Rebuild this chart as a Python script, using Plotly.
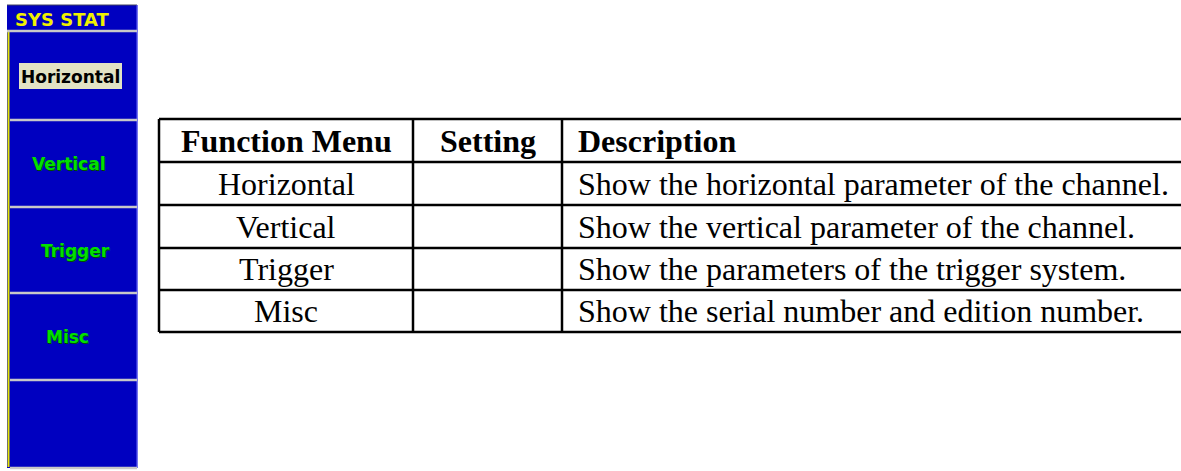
import plotly.graph_objects as go

# ---- data ----
menu_title = "SYS STAT"
menu_items = ["Horizontal", "Vertical", "Trigger", "Misc", ""]
menu_selected = 0
menu_text_x = [70, 68, 75, 67, 70]

header = ["Function Menu", "Setting", "Description"]
col_function = ["Horizontal", "Vertical", "Trigger", "Misc"]
col_setting = ["", "", "", ""]
col_description = [
    "Show the horizontal parameter of the channel.",
    "Show the vertical parameter of the channel.",
    "Show the parameters of the trigger system.",
    "Show the serial number and edition number.",
]

W, H = 1181, 471
fig = go.Figure()
shapes = []
ann = []

# ---- left menu panel ----
BLUE = "#0000C0"
panel_x0, panel_x1 = 7, 137
title_y0, title_y1 = 5, 31
sep_y = [31, 120, 207, 293, 380, 468]

shapes.append(dict(type="rect", x0=panel_x0, x1=panel_x1, y0=title_y0, y1=sep_y[-1],
                   fillcolor=BLUE, line=dict(width=0), layer="below"))
shapes.append(dict(type="line", x0=panel_x0, x1=panel_x1, y0=title_y0, y1=title_y0,
                   line=dict(color="#404060", width=1)))
shapes.append(dict(type="line", x0=panel_x1, x1=panel_x1, y0=title_y0, y1=sep_y[-1],
                   line=dict(color="#4848E8", width=1.5)))
shapes.append(dict(type="line", x0=8.5, x1=8.5, y0=sep_y[0], y1=sep_y[-1] - 1,
                   line=dict(color="#E8E800", width=2)))
for y in sep_y:
    shapes.append(dict(type="line", x0=panel_x0 + (0 if y == sep_y[0] else 3), x1=panel_x1, y0=y, y1=y,
                       line=dict(color="#C8C8C8", width=2.5)))

ann.append(dict(x=13, y=19, text="<b>" + menu_title + "</b>", showarrow=False,
                xanchor="left", yanchor="middle",
                font=dict(family="DejaVu Sans", size=18, color="#F0F000")))

MENU_FS = 17
for i, item in enumerate(menu_items):
    if not item:
        continue
    cy = (sep_y[i] + sep_y[i + 1]) / 2 + 0.5
    if i == menu_selected:
        shapes.append(dict(type="rect", x0=19, x1=122, y0=63, y1=89,
                           fillcolor="#E2E2C4", line=dict(width=0)))
        ann.append(dict(x=menu_text_x[i], y=76.5, text="<b>" + item + "</b>", showarrow=False,
                        xanchor="center", yanchor="middle",
                        font=dict(family="DejaVu Sans", size=MENU_FS, color="#000000")))
    else:
        ann.append(dict(x=menu_text_x[i], y=cy, text="<b>" + item + "</b>", showarrow=False,
                        xanchor="center", yanchor="middle",
                        font=dict(family="DejaVu Sans", size=MENU_FS, color="#00E000",
                                  shadow="1px 1px 0px #005000")))

# ---- table ----
col_x = [159, 413, 562, W + 5]
row_y = [119, 162, 205, 248, 290, 332]
LW = 2.5
for y in row_y:
    shapes.append(dict(type="line", x0=col_x[0], x1=col_x[-1], y0=y, y1=y,
                       line=dict(color="black", width=LW)))
for x in col_x[:-1]:
    shapes.append(dict(type="line", x0=x, x1=x, y0=row_y[0], y1=row_y[-1],
                       line=dict(color="black", width=LW)))

SERIF = "Liberation Serif, Times New Roman, serif"
FS = 32
desc_x = 576

def cell_center(r):
    return (row_y[r] + row_y[r + 1]) / 2

hy = cell_center(0)
ann.append(dict(x=(col_x[0] + col_x[1]) / 2, y=hy, text="<b>" + header[0] + "</b>", showarrow=False,
                xanchor="center", yanchor="middle", font=dict(family=SERIF, size=FS, color="black")))
ann.append(dict(x=(col_x[1] + col_x[2]) / 2, y=hy, text="<b>" + header[1] + "</b>", showarrow=False,
                xanchor="center", yanchor="middle", font=dict(family=SERIF, size=FS, color="black")))
ann.append(dict(x=desc_x, y=hy, text="<b>" + header[2] + "</b>", showarrow=False,
                xanchor="left", yanchor="middle", font=dict(family=SERIF, size=FS, color="black")))

for r in range(len(col_function)):
    cy = cell_center(r + 1)
    ann.append(dict(x=(col_x[0] + col_x[1]) / 2, y=cy, text=col_function[r], showarrow=False,
                    xanchor="center", yanchor="middle", font=dict(family=SERIF, size=FS, color="black")))
    if col_setting[r]:
        ann.append(dict(x=(col_x[1] + col_x[2]) / 2, y=cy, text=col_setting[r], showarrow=False,
                        xanchor="center", yanchor="middle", font=dict(family=SERIF, size=FS, color="black")))
    ann.append(dict(x=desc_x, y=cy, text=col_description[r], showarrow=False,
                    xanchor="left", yanchor="middle", font=dict(family=SERIF, size=FS, color="black")))

fig.update_layout(
    width=W, height=H, margin=dict(l=0, r=0, t=0, b=0),
    paper_bgcolor="white", plot_bgcolor="white",
    xaxis=dict(range=[0, W], visible=False, fixedrange=True),
    yaxis=dict(range=[H, 0], visible=False, fixedrange=True),
    shapes=shapes, annotations=ann, showlegend=False,
)
fig.write_html("out.html", config={"displayModeBar": False},
               post_script="document.body.style.margin='0px';document.body.style.overflow='hidden';")
